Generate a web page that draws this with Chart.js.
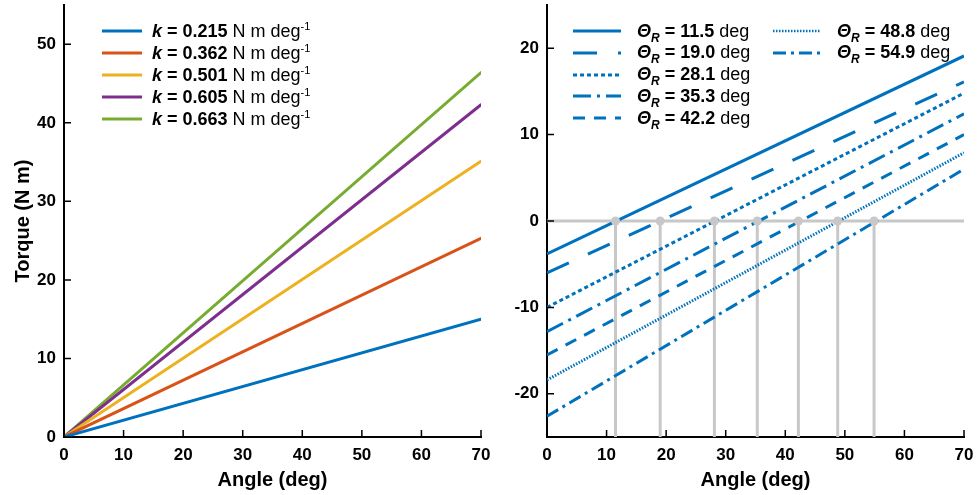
<!DOCTYPE html>
<html lang="en">
<head>
<meta charset="UTF-8">
<title>Torque vs angle</title>
<script src="https://cdn.jsdelivr.net/npm/chart.js"></script>
<style>
  body { margin: 0; background: #fff; font-family: 'Liberation Sans', Arial, sans-serif; }
  .wrap { position: relative; width: 977px; height: 495px; overflow: hidden; }
  canvas { position: absolute; top: 0; }
  #left { left: 0; }
  #right { left: 490px; }
  .row { position: absolute; height: 22px; display: flex; align-items: center; white-space: nowrap; font-size: 18px; color: #000; }
  .row svg { flex: none; }
  .row .txt { position: absolute; }
  sup { font-size: 11px; vertical-align: 7px; line-height: 0; }
  sub { font-size: 12px; vertical-align: -5px; line-height: 0; }
</style>
</head>
<body>
<div class="wrap">
  <canvas id="left" width="490" height="495"></canvas>
  <canvas id="right" width="487" height="495"></canvas>
  <div id="legendLeft"></div>
  <div id="legendRight"></div>
</div>

<script>
// ---- data ----
const angleEnds = [0, 70];
const xTicks = [0, 10, 20, 30, 40, 50, 60, 70];

// left panel: stiffness k (N m deg^-1) and torque at 0 / 70 deg
const stiffness = ['0.215', '0.362', '0.501', '0.605', '0.663'];
const torqueStart = [0, 0, 0, 0, 0];
const torqueEnd = [15.0, 25.3, 35.1, 42.3, 46.4];
const leftYTicks = [0, 10, 20, 30, 40, 50];

// right panel: rest angles and torque at 0 / 70 deg
const restAngles = [11.5, 19.0, 28.1, 35.3, 42.2, 48.8, 54.9];
const restStart = [-3.8, -6.0, -10.0, -12.8, -15.5, -18.4, -22.6];
const restEnd = [19.1, 16.1, 14.8, 12.4, 10.0, 7.9, 6.0];
const rightYTicks = [-20, -10, 0, 10, 20];

// ---- styles ----
const kColors = ['#0072BD', '#D95319', '#EDB120', '#7E2F8E', '#77AC30'];
const blue = '#0072BD';
const gray = '#c8c8c8';
const restDashes = [[], [24, 21], [4, 3], [18, 6, 3, 6], [12, 9], [1.5, 1.5], [13, 5, 3, 5]];
const FONT = "'Liberation Sans', Arial, sans-serif";

// MATLAB-style ticks pointing into the plot
const inwardTicks = {
  id: 'inwardTicks',
  afterDraw(chart) {
    const { ctx, chartArea } = chart;
    const x = chart.scales.x, y = chart.scales.y;
    ctx.save();
    ctx.strokeStyle = '#000';
    ctx.lineWidth = 1.5;
    ctx.beginPath();
    x.ticks.forEach((t, i) => {
      const px = x.getPixelForTick(i);
      ctx.moveTo(px, chartArea.bottom);
      ctx.lineTo(px, chartArea.bottom - 7);
    });
    y.ticks.forEach((t, i) => {
      const py = y.getPixelForTick(i);
      ctx.moveTo(chartArea.left, py);
      ctx.lineTo(chartArea.left + 7, py);
    });
    ctx.stroke();
    ctx.restore();
  }
};

function axes(yMin, yMax, yTicks, yWidth, yTitle) {
  const tickFont = { family: FONT, size: 17, weight: 'bold' };
  return {
    x: {
      type: 'linear', min: angleEnds[0], max: angleEnds[1],
      afterBuildTicks: s => { s.ticks = xTicks.map(v => ({ value: v })); },
      afterFit: s => { s.height = 58; s.paddingLeft = 0; s.paddingRight = 0; },
      grid: { display: false, drawTicks: false },
      border: { color: '#000', width: 2 },
      ticks: { color: '#000', font: tickFont, padding: 8 },
      title: { display: true, text: 'Angle (deg)', color: '#000',
               font: { family: FONT, size: 20, weight: 'bold' }, padding: { top: 0, bottom: 3 } }
    },
    y: {
      type: 'linear', min: yMin, max: yMax,
      afterBuildTicks: s => { s.ticks = yTicks.map(v => ({ value: v })); },
      afterFit: s => { s.width = yWidth; s.paddingTop = 0; s.paddingBottom = 0; },
      grid: { display: false, drawTicks: false },
      border: { color: '#000', width: 2 },
      ticks: { color: '#000', font: tickFont, padding: 8 },
      title: { display: !!yTitle, text: yTitle, color: '#000',
               font: { family: FONT, size: 20, weight: 'bold' }, padding: { top: 11, bottom: 0 } }
    }
  };
}

const common = {
  responsive: false,
  animation: false,
  devicePixelRatio: 1,
  plugins: { legend: { display: false }, tooltip: { enabled: false } }
};

// left panel
new Chart(document.getElementById('left'), {
  type: 'scatter',
  data: {
    datasets: stiffness.map((k, i) => ({
      data: [{ x: angleEnds[0], y: torqueStart[i] }, { x: angleEnds[1], y: torqueEnd[i] }],
      showLine: true,
      borderColor: kColors[i],
      borderWidth: 3,
      borderCapStyle: 'round',
      pointRadius: 0
    }))
  },
  options: Object.assign({}, common, {
    layout: { padding: { top: 5, right: 9, left: 0, bottom: 0 } },
    scales: axes(0, 55, leftYTicks, 64, 'Torque (N m)')
  }),
  plugins: [inwardTicks]
});

// right panel
const rightSets = [];
restAngles.forEach((a, i) => {
  rightSets.push({
    data: [{ x: angleEnds[0], y: restStart[i] }, { x: angleEnds[1], y: restEnd[i] }],
    showLine: true, borderColor: blue, borderWidth: 3, borderDash: restDashes[i],
    pointRadius: 0, order: 1
  });
});
rightSets.push({
  data: [{ x: angleEnds[0], y: 0 }, { x: angleEnds[1], y: 0 }],
  showLine: true, borderColor: gray, borderWidth: 3, pointRadius: 0, order: 5
});
restAngles.forEach(a => {
  rightSets.push({
    data: [{ x: a, y: -25 }, { x: a, y: 0 }],
    showLine: true, borderColor: gray, borderWidth: 3, pointRadius: 0, order: 5
  });
});
rightSets.push({
  data: restAngles.map(a => ({ x: a, y: 0 })),
  showLine: false, pointRadius: 4.5, backgroundColor: gray, borderWidth: 0, order: 0
});

new Chart(document.getElementById('right'), {
  type: 'scatter',
  data: { datasets: rightSets },
  options: Object.assign({}, common, {
    layout: { padding: { top: 5, right: 13, left: 0, bottom: 0 } },
    scales: axes(-25, 25, rightYTicks, 57, '')
  }),
  plugins: [inwardTicks]
});

// legends (html so the math notation stays as text)
function sample(w, color, dash, width) {
  return `<svg width="${w}" height="8"><line x1="0" y1="4" x2="${w}" y2="4" stroke="${color}"
    stroke-width="${width}" stroke-dasharray="${dash.length ? dash.join(' ') : 'none'}"/></svg>`;
}

let html = '';
stiffness.forEach((k, i) => {
  html += `<div class="row" style="left:102px;top:${20 + i * 22}px">${sample(40, kColors[i], [], 3)}
    <span class="txt" style="left:50px"><b><i>k</i> = ${k}</b> N m deg<sup>-1</sup></span></div>`;
});
document.getElementById('legendLeft').innerHTML = html;

html = '';
restAngles.forEach((a, i) => {
  const col = i < 5 ? 0 : 1;
  const r = i < 5 ? i : i - 5;
  const left = col ? 773 : 573;
  html += `<div class="row" style="left:${left}px;top:${20 + r * 21.8}px">${sample(48, blue, restDashes[i], i === 5 ? 2.5 : 3)}
    <span class="txt" style="left:64px"><b><i>&Theta;<sub>R</sub></i> = ${a.toFixed(1)}</b> deg</span></div>`;
});
document.getElementById('legendRight').innerHTML = html;
</script>
</body>
</html>
